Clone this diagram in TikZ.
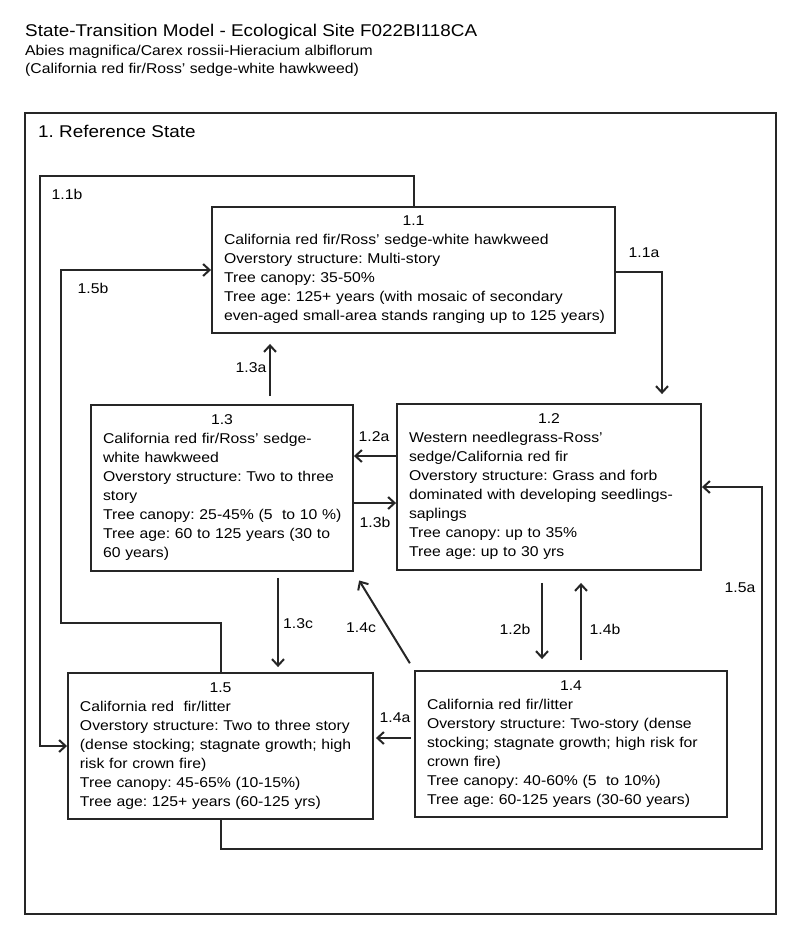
\documentclass[tikz,border=0pt]{standalone}
\usepackage{fontspec}
\setmainfont{Liberation Sans}[FakeStretch=1.11]
\usetikzlibrary{arrows.meta}
\frenchspacing
\begin{document}
\begin{tikzpicture}[x=1pt,y=-1pt,
  ln/.style={draw=black!85, line width=2pt},
  arr/.style={ln, -{Straight Barb[length=6.5pt,width=12pt]}},
  statebox/.style={draw=black!85, line width=1.9pt, align=left, inner xsep=12pt, inner ysep=0pt,
    font=\frenchspacing\fontsize{14.2}{19}\selectfont, text=black},
  lbl/.style={font=\fontsize{14.2}{17}\selectfont, text=black, inner sep=0pt},
]
\useasboundingbox (0,0) rectangle (800,940);

% titles
\node[anchor=base west, inner sep=0pt, font=\fontsize{17}{20}\selectfont, text=black] (title) at (25,36.5) {State-Transition Model - Ecological Site F022BI118CA};
\node[anchor=base west, inner sep=0pt, font=\fontsize{14.2}{18}\selectfont, text=black] (sub1) at (25,55.5) {Abies magnifica/Carex rossii-Hieracium albiflorum};
\node[anchor=base west, inner sep=0pt, font=\fontsize{14.2}{18}\selectfont, text=black] (sub2) at (25,73.5) {(California red fir/Ross’ sedge-white hawkweed)};

% outer state frame
\node[draw=black!85, line width=2.8pt, minimum width=751pt, minimum height=801pt, inner sep=0pt] (ref) at (400.5,513.5) {};
\node[anchor=base west, inner sep=0pt, font=\fontsize{17}{20}\selectfont, text=black] (refname) at (38,137.5) {1. Reference State};

% state boxes
\node[statebox, text width=379pt, minimum width=403pt, minimum height=126pt] (b11) at (413.5,270) {%
\makebox[\linewidth]{1.1}\\
\mbox{California red fir/Ross’ sedge-white hawkweed}\\
\mbox{Overstory structure: Multi-story}\\
\mbox{Tree canopy: 35-50\%}\\
\mbox{Tree age: 125+ years (with mosaic of secondary}\\
\mbox{even-aged small-area stands ranging up to 125 years)}};

\node[statebox, text width=280pt, minimum width=304pt, minimum height=166pt] (b12) at (549,487) {%
\makebox[\linewidth]{1.2}\\
\mbox{Western needlegrass-Ross’}\\
\mbox{sedge/California red fir}\\
\mbox{Overstory structure: Grass and forb}\\
\mbox{dominated with developing seedlings-}\\
\mbox{saplings}\\
\mbox{Tree canopy: up to 35\%}\\
\mbox{Tree age: up to 30 yrs}};

\node[statebox, text width=238pt, minimum width=262pt, minimum height=166pt] (b13) at (222,488) {%
\makebox[\linewidth]{1.3}\\
\mbox{California red fir/Ross’ sedge-}\\
\mbox{white hawkweed}\\
\mbox{Overstory structure: Two to three}\\
\mbox{story}\\
\mbox{Tree canopy: 25-45\% (5\ \ to 10 \%)}\\
\mbox{Tree age: 60 to 125 years (30 to}\\
\mbox{60 years)}};

\node[statebox, text width=288pt, minimum width=312pt, minimum height=146pt] (b14) at (571,744) {%
\makebox[\linewidth]{1.4}\\
\mbox{California red fir/litter}\\
\mbox{Overstory structure: Two-story (dense}\\
\mbox{stocking; stagnate growth; high risk for}\\
\mbox{crown fire)}\\
\mbox{Tree canopy: 40-60\% (5\ \ to 10\%)}\\
\mbox{Tree age: 60-125 years (30-60 years)}};

\node[statebox, text width=281pt, minimum width=305pt, minimum height=146pt] (b15) at (220.5,746) {%
\makebox[\linewidth]{1.5}\\
\mbox{California red\ \ fir/litter}\\
\mbox{Overstory structure: Two to three story}\\
\mbox{(dense stocking; stagnate growth; high}\\
\mbox{risk for crown fire)}\\
\mbox{Tree canopy: 45-65\% (10-15\%)}\\
\mbox{Tree age: 125+ years (60-125 yrs)}};

% transitions
\draw[arr] (b11.north) -- ++(0,-30) -| (40,746) -- (b15.west);
\draw[arr] (b15.north) -- ++(0,-49) -| (61,270) -- (b11.west);
\draw[arr, shorten >=9pt] ([yshift=-2pt]b11.east) -| ([xshift=113pt]b12.north);
\draw[arr, shorten <=8pt, shorten >=10pt] ([xshift=48pt]b13.north) -- ([xshift=48pt]b13.north |- b11.south);
\draw[arr] ([yshift=31pt]b12.west) -- ([yshift=31pt]b12.west -| b13.east);
\draw[arr] ([yshift=-15pt]b13.east) -- ([yshift=-15pt]b13.east -| b12.west);
\draw[arr, shorten <=6pt, shorten >=5pt] ([xshift=56pt]b13.south) -- ([xshift=56pt]b13.south |- b15.north);
\draw[arr, shorten <=8pt, shorten >=10pt] (b14.north west) -- (b13.south east);
\draw[arr, shorten <=12pt, shorten >=11pt] ([xshift=-7pt]b12.south) -- ([xshift=-7pt]b12.south |- b14.north);
\draw[arr, shorten <=10pt, shorten >=12pt] ([xshift=32pt]b12.south |- b14.north) -- ([xshift=32pt]b12.south);
\draw[arr, shorten <=3pt, shorten >=2pt] ([yshift=6pt]b14.west) -- ([yshift=6pt]b14.west -| b15.east);
\draw[arr] (b15.south) -- ++(0,29) -| (762,487) -- (b12.east);

% transition labels
\node[lbl] (l11b) at (67,194) {1.1b};
\node[lbl] (l15b) at (93,288) {1.5b};
\node[lbl] (l11a) at (644,253) {1.1a};
\node[lbl] (l13a) at (251,368) {1.3a};
\node[lbl] (l12a) at (374,437) {1.2a};
\node[lbl] (l13b) at (375,522) {1.3b};
\node[lbl] (l13c) at (298,624) {1.3c};
\node[lbl] (l14c) at (361,628) {1.4c};
\node[lbl] (l12b) at (515,629) {1.2b};
\node[lbl] (l14b) at (605,629) {1.4b};
\node[lbl] (l15a) at (740,588) {1.5a};
\node[lbl] (l14a) at (395,718) {1.4a};
\end{tikzpicture}
\end{document}
